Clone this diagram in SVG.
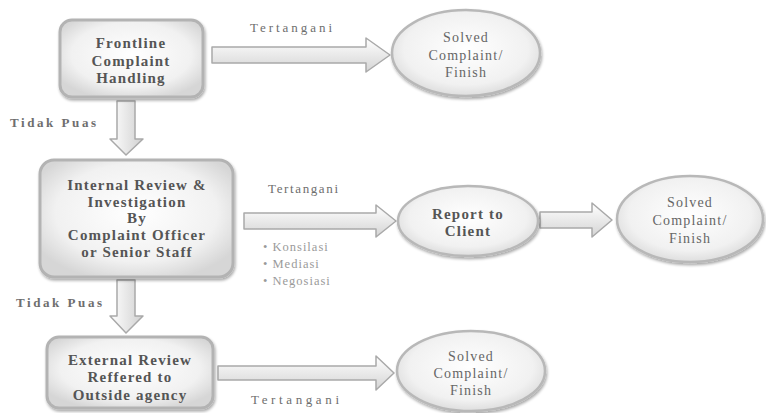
<svg xmlns="http://www.w3.org/2000/svg" width="766" height="413" viewBox="0 0 766 413">
  <defs>
    <radialGradient id="nodeFill" cx="50%" cy="45%" r="60%">
      <stop offset="0%" stop-color="#ffffff"/>
      <stop offset="70%" stop-color="#f1f1f1"/>
      <stop offset="100%" stop-color="#d6d6d6"/>
    </radialGradient>
    <linearGradient id="arrowFillH" x1="0" y1="0" x2="0" y2="1">
      <stop offset="0%" stop-color="#ffffff"/>
      <stop offset="100%" stop-color="#d4d4d4"/>
    </linearGradient>
    <linearGradient id="arrowFillV" x1="0" y1="0" x2="1" y2="0">
      <stop offset="0%" stop-color="#ffffff"/>
      <stop offset="100%" stop-color="#d0d0d0"/>
    </linearGradient>
    <filter id="soft" x="-10%" y="-10%" width="120%" height="125%">
      <feGaussianBlur in="SourceAlpha" stdDeviation="1.5"/>
      <feOffset dx="1" dy="2" result="b"/>
      <feComponentTransfer><feFuncA type="linear" slope="0.35"/></feComponentTransfer>
      <feMerge><feMergeNode/><feMergeNode in="SourceGraphic"/></feMerge>
    </filter>
  </defs>
  <style>
    .box { fill: url(#nodeFill); stroke: #b3b3b3; stroke-width: 3; filter: url(#soft); }
    .oval { fill: url(#nodeFill); stroke: #b8b8b8; stroke-width: 2.5; filter: url(#soft); }
    .arrowH { fill: url(#arrowFillH); stroke: #a9a9a9; stroke-width: 1.5; stroke-linejoin: round; }
    .arrowV { fill: url(#arrowFillV); stroke: #a9a9a9; stroke-width: 1.5; stroke-linejoin: round; }
    text { font-family: "Liberation Serif", "Times New Roman", serif; text-anchor: middle; }
    .bt { font-size: 15px; font-weight: bold; fill: #555555; letter-spacing: 1.2px; }
    .ot { font-size: 14px; fill: #666666; letter-spacing: 1.2px; }
    .lbl { font-size: 13px; fill: #6e6e6e; }
    .blt { font-size: 12.5px; fill: #9a9a9a; text-anchor: start; letter-spacing: 1px; }
  </style>

  <!-- connectors -->
  <g id="connectors">
    <path class="arrowH" d="M212,47 H366 V38 L390,55 L366,72 V63 H212 Z"/>
    <path class="arrowV" d="M117,101 V139 H110 L126,155 L143,139 H135 V101 Z"/>
    <path class="arrowH" d="M244,213 H376 V205 L396,221 L376,237 V229 H244 Z"/>
    <path class="arrowH" d="M540,212 H592 V203 L612,220 L592,237 V228 H540 Z"/>
    <path class="arrowV" d="M117,280 V316 H110 L126,333 L143,316 H135 V280 Z"/>
    <path class="arrowH" d="M218,366 H376 V356 L394,373 L376,390 V380 H218 Z"/>

    <text class="lbl" x="291" y="32" textLength="82" lengthAdjust="spacing">Tertangani</text>
    <text class="lbl" x="53" y="127" font-weight="bold" textLength="86" lengthAdjust="spacing">Tidak Puas</text>
    <text class="lbl" x="303" y="193" textLength="70" lengthAdjust="spacing">Tertangani</text>
    <text class="blt" x="263" y="251">• Konsilasi</text>
    <text class="blt" x="263" y="268">• Mediasi</text>
    <text class="blt" x="263" y="285">• Negosiasi</text>
    <text class="lbl" x="59" y="307" font-weight="bold" textLength="86" lengthAdjust="spacing">Tidak Puas</text>
    <text class="lbl" x="295" y="404" textLength="88" lengthAdjust="spacing">Tertangani</text>
  </g>

  <!-- step 1 -->
  <g id="frontline">
    <rect class="box" x="60" y="20" width="143" height="77" rx="12"/>
    <text class="bt" x="131" y="48">Frontline</text>
    <text class="bt" x="131" y="66">Complaint</text>
    <text class="bt" x="131" y="83">Handling</text>
  </g>

  <g id="solved1">
    <ellipse class="oval" cx="466" cy="53" rx="74" ry="43"/>
    <text class="ot" x="466" y="42">Solved</text>
    <text class="ot" x="466" y="60">Complaint/</text>
    <text class="ot" x="466" y="77">Finish</text>
  </g>

  <!-- step 2 -->
  <g id="internal">
    <rect class="box" x="40" y="160" width="193" height="117" rx="14"/>
    <text class="bt" x="137" y="190">Internal Review &amp;</text>
    <text class="bt" x="137" y="207">Investigation</text>
    <text class="bt" x="137" y="223">By</text>
    <text class="bt" x="137" y="240">Complaint Officer</text>
    <text class="bt" x="137" y="257">or Senior Staff</text>
  </g>

  <g id="report">
    <ellipse class="oval" cx="468" cy="221" rx="70" ry="35"/>
    <text class="bt" x="468" y="219">Report to</text>
    <text class="bt" x="468" y="236">Client</text>
  </g>

  <g id="solved2">
    <ellipse class="oval" cx="690" cy="219" rx="73" ry="43"/>
    <text class="ot" x="690" y="207">Solved</text>
    <text class="ot" x="690" y="225">Complaint/</text>
    <text class="ot" x="690" y="243">Finish</text>
  </g>

  <!-- step 3 -->
  <g id="external">
    <rect class="box" x="47" y="337" width="166" height="71" rx="12"/>
    <text class="bt" x="130" y="365">External Review</text>
    <text class="bt" x="130" y="382">Reffered to</text>
    <text class="bt" x="130" y="400">Outside agency</text>
  </g>

  <g id="solved3">
    <ellipse class="oval" cx="471" cy="371" rx="74" ry="40"/>
    <text class="ot" x="471" y="361">Solved</text>
    <text class="ot" x="471" y="378">Complaint/</text>
    <text class="ot" x="471" y="395">Finish</text>
  </g>
</svg>
